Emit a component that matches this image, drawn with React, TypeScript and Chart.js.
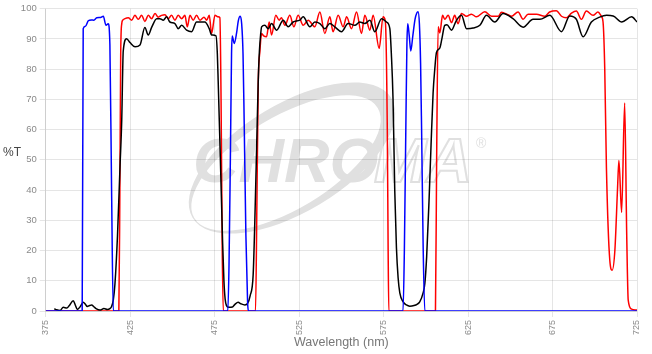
import React, { useEffect, useRef } from "react";
import { Chart, registerables } from "chart.js";

Chart.register(...registerables);

// Wavelength (nm) / transmission (%T) pairs
const blueCurve: [number, number][] = [
  [375, 0], [396.6, 0], [397.2, 93.4], [398.5, 94.2], [400.2, 96], [402, 96.3], [403.5, 96.2],
  [405.2, 97], [407.5, 97.1], [409.1, 97.5], [410.7, 94.5], [412, 95], [413, 88], [414, 40], [415, 0],
  [482.8, 0], [483.5, 15], [484.3, 50], [485, 85], [485.4, 91], [486.6, 88.5], [488, 92], [489, 96],
  [490.1, 97.5], [491, 95], [491.8, 85], [492.5, 62], [493.5, 25], [494.5, 3], [495, 0],
  [586.5, 0], [587.3, 20], [588.2, 62], [588.8, 88], [589.3, 95], [590.2, 91], [591.1, 86], [592.3, 91],
  [593.6, 96.5], [594.6, 98.5], [595.4, 99], [596.2, 95], [596.9, 82], [597.5, 60], [598.4, 22],
  [599.4, 0], [725, 0],
];

const blackCurve: [number, number][] = [
  [380.1, 0.75], [381.5, 0.4], [383.5, 0.2], [385.4, 1.2], [387.5, 1.0], [389, 1.8], [391.3, 3.4],
  [392.5, 2], [393.7, 0.5], [395.5, 1.5], [397.2, 2.9], [398.5, 2.2], [399.6, 1.5], [401, 1.8],
  [402.2, 2.0], [403.5, 1.4], [404.8, 0.8], [407.1, 0.3], [409.5, 0.8], [411.5, 0.5], [413, 0.8],
  [414, 1.5], [415, 3.6], [416, 9], [417.5, 25], [419, 48], [420, 63], [420.9, 86], [422.9, 90.1],
  [424.9, 88.8], [427.9, 87.4], [430.8, 88], [433.7, 93.8], [435.7, 91.3], [437.7, 93.8], [440.7, 96.7],
  [442.6, 96.7], [444.6, 96.2], [446.6, 97.3], [448.5, 95.6], [451.5, 95.1], [453.4, 93.4], [455.5, 94.5],
  [458.4, 92.9], [461.4, 92.4], [464.3, 95.6], [469.2, 95.6], [471.8, 93.4], [473.2, 91.3], [475.8, 91],
  [476.6, 85], [477.1, 76], [478.4, 50], [479.7, 23], [480.5, 10], [481.2, 4], [482, 1.8], [483.5, 1.2],
  [485.5, 1.3], [487, 2.2], [488.9, 2.9], [490.5, 2.4], [492.9, 2.0], [494.5, 2.5], [496, 5],
  [497.8, 12], [498.8, 30], [499.9, 55], [500.8, 76], [501.5, 86], [502.2, 91.3], [502.8, 94],
  [504.7, 94.5], [506.7, 93.4], [508.7, 95.1], [511.7, 92.9], [515.6, 96.2], [518.5, 94], [521.5, 95.6],
  [525.4, 96.2], [527.4, 97.3], [531.4, 94], [534.3, 95.6], [537.3, 95.1], [540.2, 93.4], [543.2, 95.1],
  [546.1, 94], [550.1, 92.4], [554, 95.1], [558, 94.5], [560.9, 95.6], [563.9, 95.1], [566.9, 96.2],
  [569.8, 92.4], [573.8, 96.7], [576.7, 95.6], [578.7, 93.4], [579.6, 85], [580.6, 70], [581.6, 40],
  [582.6, 21], [583.6, 11], [584.6, 6], [586.6, 3], [588.5, 2], [590.5, 1.6], [593, 1.8], [595, 2.3],
  [596.4, 3], [598.4, 6], [599.4, 9], [600.5, 18], [601.9, 36.5], [603.1, 55], [604.3, 72], [605.3, 80],
  [606.3, 85.5], [608.3, 87], [609.5, 90], [611.2, 94.5], [612.5, 94.7], [615.2, 92.9], [618, 96],
  [621.1, 97.8], [624.1, 93.4], [628, 93.6], [632, 94.5], [635.9, 97.8], [640.8, 95.6], [645.7, 98.4],
  [651.6, 96.7], [657.6, 93.9], [663.5, 96.5], [667.5, 96.5], [673.4, 97.8], [680.3, 92.4], [685.2, 97.6],
  [689.1, 96.5], [693.1, 90.7], [698, 95.6], [702.9, 97.2], [707, 97.8], [710.9, 97.6], [716, 95.6],
  [721.8, 97.3], [725, 95.6],
];

const redCurve: [number, number][] = [
  [375, 0], [418.3, 0], [418.9, 40], [419.4, 85], [420, 95], [420.6, 96.2], [421.9, 96.7], [423.9, 97],
  [425.9, 96.2], [427.8, 97.8], [429.8, 96.5], [431.8, 97.8], [433.7, 95.8], [435.7, 97.8], [437.7, 96.7],
  [439.7, 98.4], [441.6, 97.2], [443.6, 97.8], [445.6, 98], [447.5, 96.7], [449.5, 97.8], [451.5, 96.2],
  [453.4, 97.8], [455.5, 96.7], [457.4, 97.8], [458.8, 94], [460.4, 97.8], [462.3, 96.2], [464.3, 97.8],
  [466.3, 96.2], [468.7, 97.2], [470.3, 96.2], [471.8, 97.8], [473.2, 91.8], [475.2, 97.8], [477.1, 97.3],
  [478.1, 97], [478.8, 70], [479.5, 20], [480.1, 0],
  [499.2, 0], [500, 35], [500.8, 75], [501.8, 86], [502.8, 91.8], [504, 91], [505.7, 90.7], [507.3, 95.6],
  [508.7, 91.3], [511.2, 97.8], [513.2, 96.2], [514.5, 97], [516.6, 94.5], [519.5, 97.8], [521.9, 94],
  [524.4, 97.8], [527.4, 94.5], [530.4, 96.2], [534.3, 94], [537.3, 98.9], [540.2, 91.8], [543.2, 97.3],
  [545.1, 92.4], [548.1, 97.8], [551.1, 94], [553.1, 97.3], [556, 93.4], [559, 98.9], [561.9, 91.8],
  [563.9, 97.8], [566.9, 92.9], [568.8, 97.8], [572.4, 86.9], [574.7, 97.3], [576, 96], [577.2, 60],
  [577.7, 20], [578.1, 0],
  [605.7, 0], [606.4, 50], [607.3, 94], [608.3, 92], [609.9, 97.8], [611.2, 96.5], [613.2, 97.8],
  [615.2, 95.4], [617.1, 97.8], [619.1, 95], [621.1, 98.4], [624.1, 97.5], [627, 98.2], [630, 97.3],
  [634.9, 99], [638.9, 97.5], [642.8, 97.5], [644.8, 98.8], [648.7, 98], [650.7, 97.5], [654.6, 98.9],
  [657.6, 96.5], [660.5, 98.2], [665.5, 98.2], [670.4, 97.5], [673.3, 98.9], [677.3, 99.3], [680.3, 97.5],
  [683.2, 97], [686.2, 98.5], [689.1, 99.2], [692.1, 96.5], [695, 99.2], [699, 97.8], [701.9, 98.9],
  [703.9, 97.5], [704.9, 95.6], [705.9, 80.3], [706.9, 47.4], [708.9, 16.8], [710.3, 13.5], [711.9, 20],
  [713.5, 40.8], [714.3, 49.8], [715.9, 32.6], [717.7, 68.8], [718.9, 25.6], [719.8, 3.6], [721.8, 0.6],
  [725, 0.3],
];

const xTickValues = [375, 425, 475, 525, 575, 625, 675, 725];
const yTickValues = [0, 10, 20, 30, 40, 50, 60, 70, 80, 90, 100];
const xTitle = "Wavelength (nm)";
const yTitle = "%T";
const watermarkMain = "CHRO";
const watermarkTail = "MA";

const FAMILY = '"Liberation Sans", Arial, Helvetica, sans-serif';

const toPoints = (c: [number, number][]) => c.map(([x, y]) => ({ x, y }));

const watermarkPlugin = {
  id: "watermark",
  beforeDraw(chart: any) {
    const ctx = chart.ctx as CanvasRenderingContext2D;
    ctx.save();
    const col = "#e0e0e0";
    ctx.fillStyle = col;
    ctx.strokeStyle = col;
    const rot = (-31 * Math.PI) / 180;
    ctx.beginPath();
    const o = { cx: 292, cy: 158, rx: 116, ry: 54 };
    const i = { cx: 286, cy: 163, rx: 107, ry: 46 };
    ctx.moveTo(o.cx + o.rx * Math.cos(rot), o.cy + o.rx * Math.sin(rot));
    ctx.ellipse(o.cx, o.cy, o.rx, o.ry, rot, 0, Math.PI * 2);
    ctx.moveTo(i.cx + i.rx * Math.cos(rot), i.cy + i.rx * Math.sin(rot));
    ctx.ellipse(i.cx, i.cy, i.rx, i.ry, rot, 0, Math.PI * 2);
    ctx.fill("evenodd");
    ctx.font = `italic bold 63px ${FAMILY}`;
    ctx.textBaseline = "alphabetic";
    ctx.textAlign = "left";
    ctx.fillText(watermarkMain, 193, 182);
    ctx.lineWidth = 2;
    ctx.strokeText(watermarkTail, 374, 182);
    ctx.font = `14px ${FAMILY}`;
    ctx.fillText("®", 476, 148);
    ctx.restore();
  },
};

const yLabelPlugin = {
  id: "yLabel",
  afterDraw(chart: any) {
    const ctx = chart.ctx as CanvasRenderingContext2D;
    ctx.save();
    ctx.font = `12px ${FAMILY}`;
    ctx.fillStyle = "#444";
    ctx.textAlign = "left";
    ctx.textBaseline = "middle";
    ctx.fillText(yTitle, 3, 153);
    ctx.restore();
  },
};

export default function App() {
  const ref = useRef<HTMLCanvasElement>(null);
  useEffect(() => {
    const common = {
      pointRadius: 0,
      borderWidth: 1.5,
      fill: false,
      cubicInterpolationMode: "monotone" as const,
      clip: 0,
    };
    const chart = new Chart(ref.current!, {
      type: "line",
      data: {
        datasets: [
          { ...common, label: "blue", data: toPoints(blueCurve), borderColor: "#0000ff" },
          { ...common, label: "black", data: toPoints(blackCurve), borderColor: "#000000" },
          { ...common, label: "red", data: toPoints(redCurve), borderColor: "#ff0000" },
        ],
      },
      options: {
        responsive: false,
        animation: false,
        devicePixelRatio: 1,
        layout: { padding: { top: 7, right: 15, left: 0, bottom: 0 } },
        plugins: { legend: { display: false }, tooltip: { enabled: false } },
        scales: {
          x: {
            type: "linear",
            min: 375,
            max: 725,
            afterBuildTicks: (s: any) => {
              s.ticks = xTickValues.map((v) => ({ value: v }));
            },
            afterFit: (s: any) => {
              s.height = 43;
            },
            ticks: {
              minRotation: 90,
              maxRotation: 90,
              autoSkip: false,
              padding: 3,
              color: "#8a8a8a",
              font: { size: 9, family: FAMILY },
            },
            grid: { color: "rgba(0,0,0,0.1)", tickLength: 6 },
            border: { display: true, color: "rgba(0,0,0,0.1)" },
            title: {
              display: true,
              text: xTitle,
              color: "#777",
              font: { size: 12.5, family: FAMILY },
              padding: { top: 0, bottom: 3.5 },
            },
          },
          y: {
            type: "linear",
            min: 0,
            max: 100,
            afterBuildTicks: (s: any) => {
              s.ticks = yTickValues.map((v) => ({ value: v }));
            },
            afterFit: (s: any) => {
              s.width = 45.7;
            },
            ticks: {
              padding: 3,
              color: "#8a8a8a",
              font: { size: 9.5, family: FAMILY },
            },
            grid: { color: "rgba(0,0,0,0.1)", tickLength: 6 },
            border: { display: true, color: "rgba(0,0,0,0.1)" },
          },
        },
      },
      plugins: [watermarkPlugin, yLabelPlugin],
    } as any);
    return () => chart.destroy();
  }, []);
  return (
    <div style={{ position: "fixed", left: 0, top: 0, width: 652, height: 354, background: "#fff" }}>
      <canvas ref={ref} width={652} height={354} style={{ display: "block" }} />
    </div>
  );
}
